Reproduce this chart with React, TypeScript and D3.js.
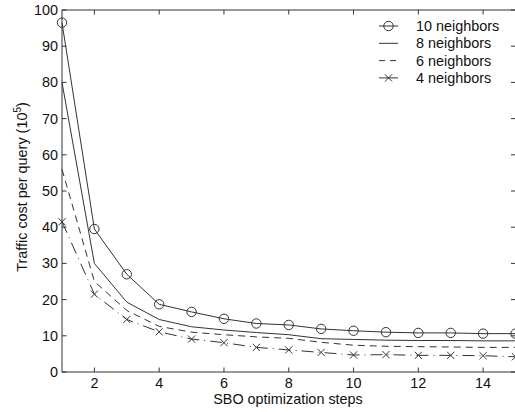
import React from "react";
import * as d3 from "d3";

const steps = [1, 2, 3, 4, 5, 6, 7, 8, 9, 10, 11, 12, 13, 14, 15];
const n10 = [96.5, 39.5, 27, 18.7, 16.6, 14.7, 13.4, 13, 11.9, 11.4, 11, 10.8, 10.8, 10.6, 10.6];
const n8 = [80, 30, 19.3, 14.5, 12.5, 11.6, 10.9, 10.3, 9.2, 9.0, 8.8, 8.7, 8.7, 8.6, 8.6];
const n6 = [56, 25, 17, 12.6, 11, 10.3, 9.7, 9.3, 8.2, 7.4, 7.1, 7.0, 6.9, 6.8, 6.8];
const n4 = [41.5, 21.5, 14.5, 11.1, 9.1, 8.1, 6.8, 6.1, 5.4, 4.7, 4.8, 4.6, 4.6, 4.5, 4.2];
const seriesNames = ["10 neighbors", "8 neighbors", "6 neighbors", "4 neighbors"];
const xTicks = [2, 4, 6, 8, 10, 12, 14];
const yTicks = [0, 10, 20, 30, 40, 50, 60, 70, 80, 90, 100];

const W = 515, H = 412;
const L = 62, R = 515.5, T = 10, B = 372;
const ink = "#333";
const font = "Liberation Sans, Arial, Helvetica, sans-serif";
const fs = 14.4;

export default function App() {
  const x = d3.scaleLinear().domain([1, 15]).range([L, R]);
  const y = d3.scaleLinear().domain([0, 100]).range([B, T]);
  const line = d3.line<number>().x((_, i) => x(steps[i])).y((d) => y(d));

  const series = [
    { name: seriesNames[0], data: n10, dash: "none", marker: "o" },
    { name: seriesNames[1], data: n8, dash: "none", marker: "" },
    { name: seriesNames[2], data: n6, dash: "7,5", marker: "" },
    { name: seriesNames[3], data: n4, dash: "12,5,1,5", marker: "x" },
  ];

  const marker = (m: string, cx: number, cy: number, key: any) => {
    if (m === "o")
      return <circle key={key} cx={cx} cy={cy} r={4.7} fill="none" stroke={ink} strokeWidth={1} />;
    if (m === "x") {
      const s = 3.6;
      return (
        <path key={key} d={`M${cx - s},${cy - s}L${cx + s},${cy + s}M${cx - s},${cy + s}L${cx + s},${cy - s}`} stroke={ink} strokeWidth={1} />
      );
    }
    return null;
  };

  const legX1 = 379, legX2 = 398, legTx = 416, legY0 = 26, legDy = 17.3;

  return (
    <svg width={W} height={H} style={{ position: "absolute", left: 0, top: 0, background: "#fff" }} fontFamily={font}>
      <rect x={0} y={0} width={W} height={H} fill="#fff" />
      <rect x={L} y={T} width={R - L} height={B - T} fill="none" stroke={ink} strokeWidth={1} />
      {xTicks.map((t) => (
        <g key={"xt" + t}>
          <line x1={x(t)} x2={x(t)} y1={B} y2={B - 4.5} stroke={ink} />
          <line x1={x(t)} x2={x(t)} y1={T} y2={T + 4.5} stroke={ink} />
          <text x={x(t)} y={388} textAnchor="middle" fontSize={fs} fill="#111">{t}</text>
        </g>
      ))}
      {yTicks.map((t) => (
        <g key={"yt" + t}>
          <line x1={L} x2={L + 4.5} y1={y(t)} y2={y(t)} stroke={ink} />
          <line x1={R} x2={R - 4.5} y1={y(t)} y2={y(t)} stroke={ink} />
          <text x={58} y={y(t) + 5} textAnchor="end" fontSize={fs} fill="#111">{t}</text>
        </g>
      ))}
      <text x={288} y={404} textAnchor="middle" fontSize={fs} fill="#111">SBO optimization steps</text>
      <text transform={`translate(27,187) rotate(-90)`} textAnchor="middle" fontSize={fs} fill="#111">
        Traffic cost per query (10<tspan dy={-6} fontSize={10}>5</tspan><tspan dy={6}>)</tspan>
      </text>
      {series.map((s) => (
        <g key={s.name}>
          <path d={line(s.data) || ""} fill="none" stroke={ink} strokeWidth={1} strokeDasharray={s.dash} />
          {s.marker && s.data.map((v, i) => marker(s.marker, x(steps[i]), y(v), i))}
        </g>
      ))}
      {series.map((s, i) => {
        const ly = legY0 + i * legDy;
        return (
          <g key={"lg" + i}>
            <line x1={legX1} x2={legX2} y1={ly} y2={ly} stroke={ink} strokeWidth={1} strokeDasharray={i === 2 ? "6,5" : "none"} />
            {marker(s.marker, (legX1 + legX2) / 2, ly, "m")}
            <text x={legTx} y={ly + 5} fontSize={fs} fill="#111">{s.name}</text>
          </g>
        );
      })}
    </svg>
  );
}
